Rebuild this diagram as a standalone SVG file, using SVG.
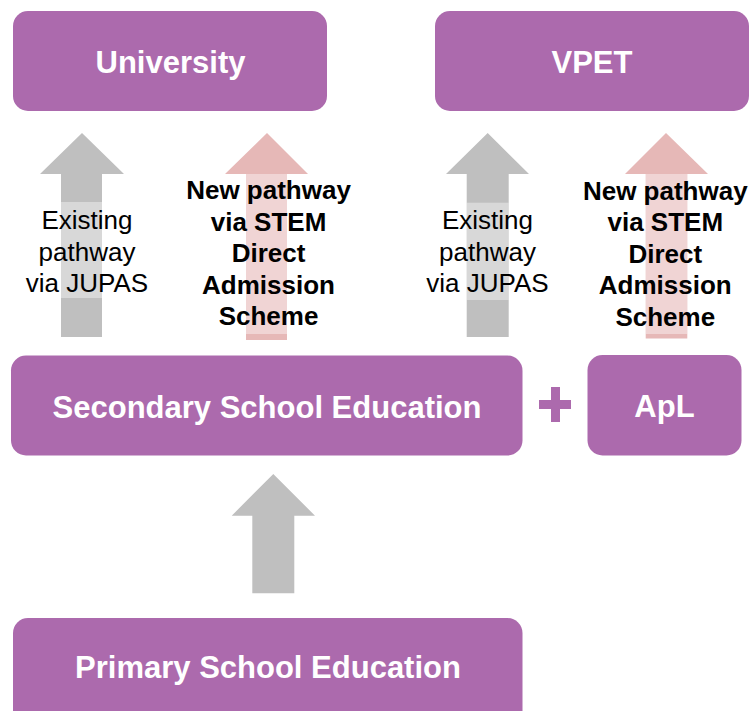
<svg xmlns="http://www.w3.org/2000/svg" width="752" height="711" viewBox="0 0 752 711">
<style>
.box{fill:#AC6AAD}
.t{font-family:"Liberation Sans",Arial,sans-serif;font-weight:bold;font-size:31px;fill:#FFFFFF;text-anchor:middle}
.gray{fill:#BFBFBF}
.pink{fill:#E6B8B7}
.band{fill:#FFFFFF;fill-opacity:0.4}
.lr{font-family:"Liberation Sans",Arial,sans-serif;font-size:26px;fill:#000000;text-anchor:middle}
.lb{font-family:"Liberation Sans",Arial,sans-serif;font-size:26px;font-weight:bold;fill:#000000;text-anchor:middle}
</style>
<g id="university"><rect class="box" x="13" y="11" width="314" height="100" rx="15"/><text class="t" x="170.5" y="72.5">University</text></g>
<g id="vpet"><rect class="box" x="435" y="11" width="314" height="100" rx="15"/><text class="t" x="592" y="72.5">VPET</text></g>
<g id="secondary"><rect class="box" x="11" y="355.5" width="511.5" height="100" rx="15"/><text class="t" x="267" y="417.5">Secondary School Education</text></g>
<g id="apl"><rect class="box" x="587.5" y="355" width="154" height="100.5" rx="15"/><text class="t" x="664.5" y="416.5">ApL</text></g>
<g id="plus"><rect class="box" x="539" y="400" width="32" height="9"/><rect class="box" x="551" y="387" width="9" height="35"/></g>
<g id="primary"><rect class="box" x="13" y="618" width="509.5" height="110" rx="15"/><text class="t" x="268" y="678.3">Primary School Education</text></g>
<g id="connectors">
<g id="arrow-jupas-uni"><polygon class="gray" points="82,133 124,174 102,174 102,337 61,337 61,174 40,174"/><rect class="band" x="61" y="202" width="41" height="96"/>
<text class="lr" x="87"><tspan x="87" y="229">Existing</tspan><tspan x="87" y="260.5">pathway</tspan><tspan x="87" y="291.5">via JUPAS</tspan></text></g>
<g id="arrow-stem-uni"><polygon class="pink" points="267,133 308,174 287,174 287,340 246,340 246,174 225,174"/><rect class="band" x="246" y="174" width="41" height="160"/>
<text class="lb"><tspan x="268.5" y="199">New pathway</tspan><tspan x="268.5" y="230.5">via STEM</tspan><tspan x="268.5" y="262">Direct</tspan><tspan x="268.5" y="293.5">Admission</tspan><tspan x="268.5" y="325">Scheme</tspan></text></g>
<g id="arrow-jupas-vpet"><polygon class="gray" points="487.7,133 529,174 508.7,174 508.7,337 466.7,337 466.7,174 446,174"/><rect class="band" x="466.7" y="202.7" width="42" height="97.3"/>
<text class="lr"><tspan x="487.5" y="229">Existing</tspan><tspan x="487.5" y="260.5">pathway</tspan><tspan x="487.5" y="291.5">via JUPAS</tspan></text></g>
<g id="arrow-stem-vpet"><polygon class="pink" points="666,133 708,174 687.3,174 687.3,338.5 645.7,338.5 645.7,174 625,174"/><rect class="band" x="645.7" y="174" width="41.6" height="160"/>
<text class="lb"><tspan x="665.3" y="199.5">New pathway</tspan><tspan x="665.3" y="231">via STEM</tspan><tspan x="665.3" y="262.5">Direct</tspan><tspan x="665.3" y="294">Admission</tspan><tspan x="665.3" y="325.5">Scheme</tspan></text></g>
<g id="arrow-primary-secondary"><polygon class="gray" points="273.3,474 315,515.7 294.3,515.7 294.3,593.3 252.3,593.3 252.3,515.7 231.7,515.7"/></g>
</g>
</svg>
